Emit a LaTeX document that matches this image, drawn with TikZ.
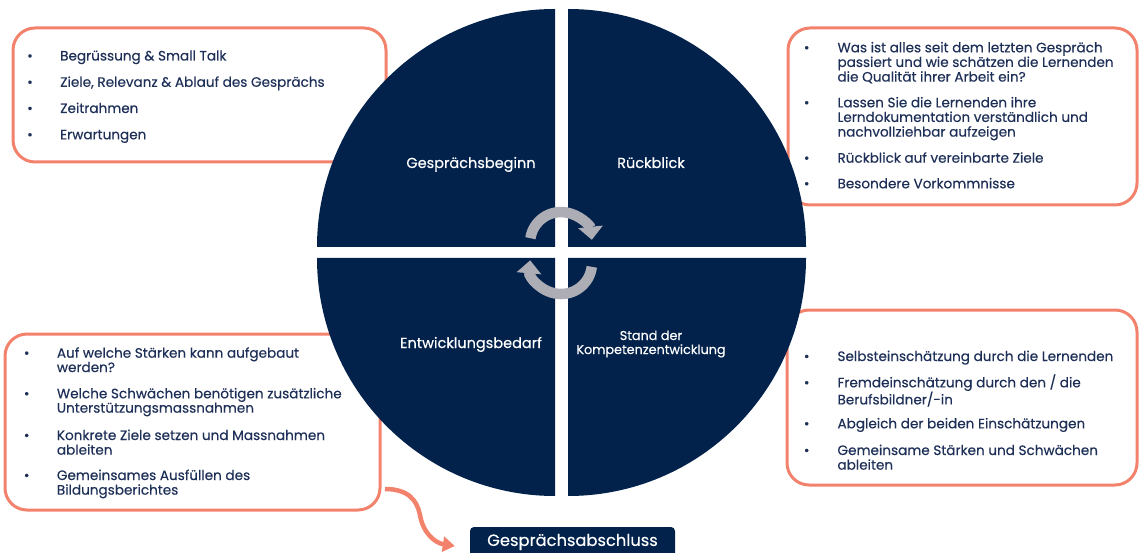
\documentclass[tikz,border=0pt]{standalone}
\usepackage{fontspec}
\setmainfont{Poppins}[FakeBold=0.3]
\usetikzlibrary{arrows.meta}

\definecolor{navy}{RGB}{2,34,76}
\definecolor{txtblue}{RGB}{30,48,88}
\definecolor{salmon}{RGB}{242,130,108}
\definecolor{arrowgray}{RGB}{172,173,181}

\newcommand{\itemfont}{\fontsize{13.6}{14.3}\selectfont}
\newcommand{\quadfont}{\fontsize{14.5}{16}\selectfont}
\newcommand{\standfont}{\fontsize{12.8}{14}\selectfont}
\newcommand{\lines}[1]{\begin{tabular}[t]{@{}l@{}}#1\end{tabular}}

\tikzset{
  frame/.style={draw=salmon, line width=3pt, rounded corners=22pt, fill=white, inner sep=0pt},
  bul/.style={anchor=base, text=txtblue, font=\itemfont, inner sep=0pt},
  itm/.style={anchor=base west, text=txtblue, font=\itemfont, inner sep=0pt},
  quad/.style={fill=navy},
  qlabel/.style={anchor=base, text=white, font=\quadfont, inner sep=0pt},
  cycarrow/.style={draw=arrowgray, line width=10.5pt, -{Triangle[width=24pt,length=13pt]}},
  flow/.style={draw=salmon, line width=4.5pt, -{Triangle[width=15pt,length=12pt]}},
  endbox/.style={fill=navy, rounded corners=4pt, text=white, font=\fontsize{16.3}{17}\selectfont,
    minimum width=205pt, minimum height=30pt, inner sep=0pt},
}

\begin{document}
\begin{tikzpicture}[x=1pt,y=-1pt]
\useasboundingbox (0,0) rectangle (1140,553);

%Frames behind the circle
\node[frame, minimum width=373pt, minimum height=134pt] (boxBeginn) at (199.5,95) {};
\node[frame, minimum width=349pt, minimum height=177pt] (boxRueck) at (962.5,116.5) {};
\node[frame, minimum width=375pt, minimum height=176pt] (boxEntw) at (192.5,422) {};
\node[frame, minimum width=350pt, minimum height=175pt] (boxStand) at (962,397.5) {};

%Circle: four quarters
\fill[quad] (555,247) -- (317,247) arc[start angle=180, end angle=90, radius=238pt] -- cycle;
\fill[quad] (568,247) -- (568,9) arc[start angle=90, end angle=0, radius=238pt] -- cycle;
\fill[quad] (568,258) -- (806,258) arc[start angle=0, end angle=-90, radius=238pt] -- cycle;
\fill[quad] (555,258) -- (555,496) arc[start angle=-90, end angle=-180, radius=238pt] -- cycle;

%Cycle arrows
\draw[cycarrow] (530.4,238.2) arc[start angle=171, end angle=6, radius=31pt];
\draw[cycarrow] (591.8,266.8) arc[start angle=-7, end angle=-185, radius=31pt];

% Quarter labels
\node[qlabel] (beginn) at (471,168) {Gesprächsbeginn};
\node[qlabel] (rueck) at (651,168) {Rückblick};
\node[qlabel] (entw) at (471,348) {Entwicklungsbedarf};
\node[qlabel, font=\standfont] (stand) at (651,340) {\begin{tabular}[t]{@{}c@{}}Stand der\\Kompetenzentwicklung\end{tabular}};

% Text Nodes: Gespraechsbeginn
\foreach \y/\t [count=\i] in {60.5/{Begrüssung \& Small Talk}, 86.8/{Ziele, Relevanz \& Ablauf des Gesprächs},
    113/{Zeitrahmen}, 139.3/{Erwartungen}} {
  \node[bul] (tlb\i) at (30,\y) {•};
  \node[itm] (tlt\i) at (60,\y) {\lines{\t}};
}
% Text Nodes: Rueckblick
\foreach \y/\t [count=\i] in {52.3/{Was ist alles seit dem letzten Gespräch\\passiert und wie schätzen die Lernenden\\die Qualität ihrer Arbeit ein?},
    107.3/{Lassen Sie die Lernenden ihre\\Lerndokumentation verständlich und\\nachvollziehbar aufzeigen},
    162.7/{Rückblick auf vereinbarte Ziele}, 188.3/{Besondere Vorkommnisse}} {
  \node[bul] (trb\i) at (806.7,\y) {•};
  \node[itm] (trt\i) at (837.3,\y) {\lines{\t}};
}
% Text Nodes: Entwicklungsbedarf
\foreach \y/\t [count=\i] in {357.7/{Auf welche Stärken kann aufgebaut\\werden?},
    398.3/{Welche Schwächen benötigen zusätzliche\\Unterstützungsmassnahmen},
    440/{Konkrete Ziele setzen und Massnahmen\\ableiten}, 480/{Gemeinsames Ausfüllen des\\Bildungsberichtes}} {
  \node[bul] (blb\i) at (26.7,\y) {•};
  \node[itm] (blt\i) at (56.7,\y) {\lines{\t}};
}
% Text Nodes: Stand der Kompetenzentwicklung
\foreach \y/\t [count=\i] in {361/{Selbsteinschätzung durch die Lernenden},
    387.3/{Fremdeinschätzung durch den / die\\Berufsbildner/-in},
    428.3/{Abgleich der beiden Einschätzungen}, 455/{Gemeinsame Stärken und Schwächen\\ableiten}} {
  \node[bul] (brb\i) at (806.7,\y) {•};
  \node[itm] (brt\i) at (837.3,\y) {\lines{\t}};
}

% Closing step
\node[endbox] (abschluss) at (572.5,542) {Gesprächsabschluss};
\coordinate (flowstart) at (385,489);
\draw[flow] (flowstart) .. controls (408,489) and (417,500) .. (420,515)
  .. controls (423,533) and (435,543) .. ([xshift=-15pt,yshift=-4pt]abschluss.west);

\end{tikzpicture}
\end{document}
